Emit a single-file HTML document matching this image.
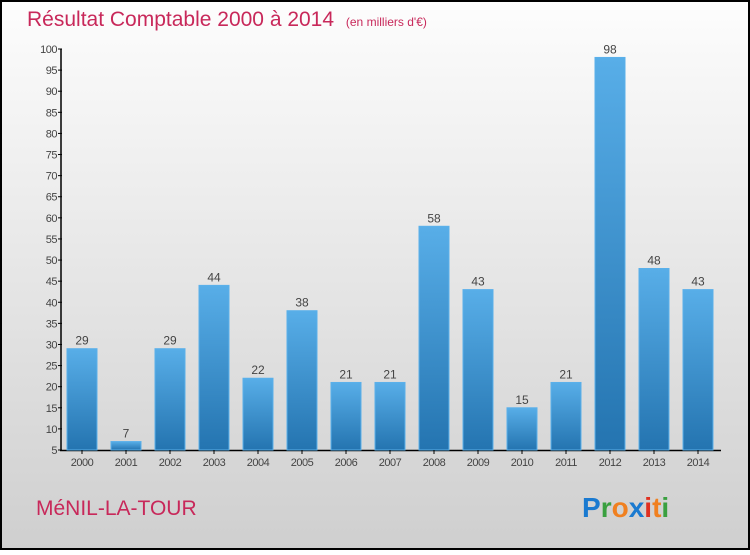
<!DOCTYPE html>
<html><head><meta charset="utf-8"><style>
html,body{margin:0;padding:0}
body{width:750px;height:550px;overflow:hidden;font-family:"Liberation Sans",sans-serif}
</style></head><body>
<svg width="750" height="550" xmlns="http://www.w3.org/2000/svg">
<defs>
<linearGradient id="bg" x1="0" y1="0" x2="0" y2="1"><stop offset="0" stop-color="#fdfdfd"/><stop offset="1" stop-color="#cfcfcf"/></linearGradient>
<linearGradient id="bar" x1="0" y1="0" x2="0" y2="1"><stop offset="0" stop-color="#58aee8"/><stop offset="1" stop-color="#2474b0"/></linearGradient>
</defs>
<rect x="1" y="1" width="748" height="548" fill="url(#bg)" stroke="#000" stroke-width="2"/>
<text x="27" y="26" font-size="21" fill="#c8285a">Résultat Comptable 2000 à 2014 <tspan font-size="12" dx="6">(en milliers d'€)</tspan></text>
<g id="axes"></g>
<g id="bars"></g>
<text x="36" y="515" font-size="21" fill="#c8285a">MéNIL-LA-TOUR</text>
<g font-size="28" font-weight="bold" font-family="'Liberation Sans',sans-serif">
<text x="582" y="517" fill="#1a7ad0">P<tspan fill="#3aa040">r</tspan><tspan fill="#f08020">o</tspan><tspan fill="#1a7ad0">x</tspan><tspan fill="#e03020">i</tspan><tspan fill="#f08020">t</tspan><tspan fill="#3aa040">i</tspan></text>
</g>
</svg>
<script>
const categories=["2000","2001","2002","2003","2004","2005","2006","2007","2008","2009","2010","2011","2012","2013","2014"];
const values=[29,7,29,44,22,38,21,21,58,43,15,21,98,48,43];
const yTicks=[5,10,15,20,25,30,35,40,45,50,55,60,65,70,75,80,85,90,95,100];
const NS="http://www.w3.org/2000/svg";
const y=v=>450-(v-5)*(401/95);
const x=i=>82+i*44;
const axes=document.getElementById('axes'),bars=document.getElementById('bars');
function mk(tag,attrs,parent,txt){const e=document.createElementNS(NS,tag);for(const k in attrs)e.setAttribute(k,attrs[k]);if(txt!==undefined)e.textContent=txt;parent.appendChild(e);return e;}
let yl=mk('line',{x1:61,y1:49,x2:61,y2:451,stroke:'#000','stroke-width':1.5},axes);


let xl=mk('line',{x1:60,y1:450.5,x2:721,y2:450.5,stroke:'#000','stroke-width':1.5},axes);


yTicks.forEach(t=>{
 const l=mk('line',{x1:58,y1:y(t),x2:62,y2:y(t),stroke:'#000'},axes);
 
 
 const tx=mk('text',{x:57,y:y(t)+4,'font-size':11,'text-anchor':'end',fill:'#444','letter-spacing':'-0.5'},axes,t);
 
 
});
categories.forEach((c,i)=>{
 const v=values[i];
 const r=mk('rect',{x:x(i)-15,y:y(v),width:30,height:450-y(v),fill:'url(#bar)',stroke:'#5ab0ea','stroke-width':1},bars);
 
 
 const vl=mk('text',{x:x(i),y:y(v)-4,'font-size':12,'text-anchor':'middle',fill:'#444'},bars,v);
 
 
 const xt=mk('text',{x:x(i),y:466,'font-size':11,'text-anchor':'middle',fill:'#444','letter-spacing':'-0.5'},bars,c);
 
 
 const tk=mk('line',{x1:x(i),y1:450,x2:x(i),y2:454,stroke:'#000'},bars);
 
 
});
</script>
</body></html>
